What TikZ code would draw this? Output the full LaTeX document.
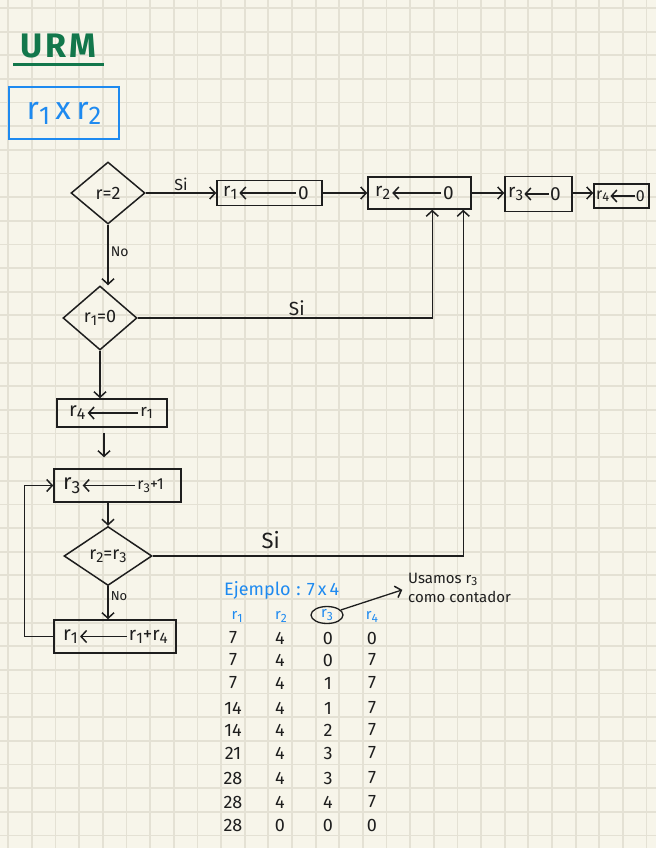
\documentclass[tikz,border=0pt]{standalone}
\usepackage{fontspec}
\setmainfont{Fira Sans}
\usetikzlibrary{arrows.meta,shapes.geometric,calc}
\definecolor{paper}{HTML}{F7F5EA}
\definecolor{gridc}{HTML}{E4E1D4}
\definecolor{ink}{HTML}{1E1E1E}
\definecolor{bluei}{HTML}{1E8AF0}
\definecolor{greeni}{HTML}{12774B}
\newcommand{\rr}[1]{r\raisebox{-0.3ex}{\scalebox{0.8}{#1}}}
\begin{document}
\begin{tikzpicture}[x=1pt,y=-1pt,
  gridline/.style={draw=gridc, line width=1.8pt},
  inkline/.style={draw=ink, line width=1.5pt},
  arr/.style={inkline, -{Straight Barb[length=5.5pt,width=12pt,line width=1.5pt]}},
  boxn/.style={draw=ink, line width=1.5pt, rectangle, inner sep=0pt},
  dia/.style={draw=ink, line width=1.5pt, diamond, inner sep=0pt, font=\fontsize{18}{20}\selectfont, text=ink},
  intxt/.style={inner sep=2pt, text=ink, font=\fontsize{19}{21}\selectfont},
  lbl/.style={inner sep=2pt, text=ink, font=\fontsize{16}{18}\selectfont},
  num/.style={inner sep=1pt, text=ink, font=\fontsize{18}{20}\selectfont},
  hdr/.style={inner sep=1pt, text=bluei, font=\fontsize{15}{17}\selectfont}
]
\useasboundingbox (0,0) rectangle (656,848);
\fill[paper] (0,0) rectangle (656,848);
\foreach \k in {0,...,27} \draw[gridline] ({8.3+23.64*\k},0) -- ({8.3+23.64*\k},848);
\foreach \k in {0,...,35} \draw[gridline] (0,{8+23.64*\k}) -- (656,{8+23.64*\k});

% title
\node[text=greeni, inner sep=0pt, font=\fontsize{34}{40}\selectfont\bfseries] (title) at (58,46) {U\kern3pt R\kern3pt M};
\draw[greeni, line width=3pt] (13,65) -- (104,65);
\node[draw=bluei, line width=2.5pt, minimum width=110, minimum height=52, inner sep=0pt,
      text=bluei, font=\fontsize{32}{36}\selectfont] (prob) at (64,113) {\rr{1}\,x\,\rr{2}};

% top row
\node[dia, minimum width=74, minimum height=62] (d1) at (108,193) {r=2};
\node[boxn, minimum width=105, minimum height=25] (b1) at (269.5,193) {};
\node[intxt, anchor=west] (b1l) at (221,193) {\rr{1}};
\node[intxt, anchor=east] (b1r) at (311,193) {0};
\draw[arr] (b1r) -- (b1l);

\node[boxn, minimum width=103, minimum height=32] (b2) at (419.5,193) {};
\node[intxt, anchor=west] (b2l) at (373,193) {\rr{2}};
\node[intxt, anchor=east] (b2r) at (456,193) {0};
\draw[arr] (b2r) -- (b2l);

\node[boxn, minimum width=67, minimum height=35] (b3) at (538.5,194) {};
\node[intxt, anchor=west, inner sep=1pt] (b3l) at (507,194) {\rr{3}};
\node[intxt, anchor=east, inner sep=1pt] (b3r) at (562,194) {0};
\draw[arr] (b3r) -- (b3l);

\node[boxn, minimum width=55, minimum height=24] (b4) at (621.5,196) {};
\node[intxt, anchor=west, inner sep=1pt, font=\fontsize{16}{18}\selectfont] (b4l) at (595,196) {\rr{4}};
\node[intxt, anchor=east, inner sep=1pt, font=\fontsize{16}{18}\selectfont] (b4r) at (646,196) {0};
\draw[arr] (b4r) -- (b4l);

\draw[arr] (d1.east) -- (d1.east -| b1.west) node[midway, above, lbl] (si1) {Si};
\draw[arr] (b1.east) -- (b1.east -| b2.west);
\draw[arr] (b2.east) -- (b2.east -| b3.west);
\draw[arr] (b3.east |- b2.east) -- (b2.east -| b4.west);

% left column
\node[dia, minimum width=74, minimum height=64] (d2) at (100,318) {\rr{1}=0};
\draw[arr] (d1.south) -- (d1.south |- d2.north) node[pos=0.45, right, lbl, font=\fontsize{14}{16}\selectfont] (no1) {No};

\coordinate (in1) at ($(b2.south west)+(65,0)$);
\coordinate (in2) at ($(b2.south west)+(96,0)$);
\draw[arr] (d2.east) -| (in1) node[pos=0.27, above, lbl, font=\fontsize{19}{21}\selectfont] (si2) {Si};

\node[boxn, minimum width=110, minimum height=28] (b5) at (112,413) {};
\node[intxt, anchor=west, font=\fontsize{20}{22}\selectfont] (b5l) at (67,413) {\rr{4}};
\node[intxt, anchor=east, font=\fontsize{17}{19}\selectfont] (b5r) at (155,413) {\rr{1}};
\draw[arr] (b5r) -- (b5l);
\draw[arr] (d2.south) -- (d2.south |- b5.north);

\node[boxn, minimum width=127, minimum height=33] (b6) at (117.5,485.5) {};
\node[intxt, anchor=west, font=\fontsize{22}{24}\selectfont] (b6l) at (61,485.5) {\rr{3}};
\node[intxt, anchor=east, font=\fontsize{16}{18}\selectfont] (b6r) at (166,485.5) {\rr{3}+1};
\draw[arr] (b6r) -- (b6l);
\coordinate (a5) at ($(b5.south)+(-8,0)$);
\draw[arr, shorten <=5pt, shorten >=11pt] (a5) -- (a5 |- b6.north);

\node[dia, minimum width=88, minimum height=59] (d3) at (108,556) {\rr{2}=\rr{3}};
\draw[arr] (b6.south -| d3.north) -- (d3.north);
\draw[arr] (d3.east) -| (in2) node[pos=0.19, above=4pt, lbl, font=\fontsize{22}{24}\selectfont] (si3) {Si};

\node[boxn, minimum width=122, minimum height=33] (b7) at (115,636.5) {};
\node[intxt, anchor=west, font=\fontsize{20}{22}\selectfont] (b7l) at (61,636.5) {\rr{1}};
\node[intxt, anchor=east, font=\fontsize{19}{21}\selectfont] (b7r) at (170,636.5) {\rr{1}+\rr{4}};
\draw[arr] (b7r) -- (b7l);
\draw[arr] (d3.south) -- (d3.south |- b7.north) node[pos=0.3, right, lbl, font=\fontsize{13}{15}\selectfont] (no2) {No};
\draw[arr] (b7.west) -- ++(-29,0) |- (b6.west);

% example table
\node[anchor=west, inner sep=0pt, text=bluei, font=\fontsize{18}{20}\selectfont] (ej) at (224,590) {Ejemplo\,\,:\,\,7\,x\,4};
\node[hdr] (h1) at (237,617) {\rr{1}};
\node[hdr] (h2) at (281,617) {\rr{2}};
\node[hdr, ellipse, draw=ink, line width=1.3pt, minimum width=32, minimum height=17, inner sep=0pt] (h3) at (327,615) {\rr{3}};
\node[hdr] (h4) at (372,617) {\rr{4}};
\node[anchor=west, align=left, inner sep=0pt, text=ink, font=\fontsize{15}{19}\selectfont] (note) at (408,588) {Usamos \rr{3}\\como contador};
\draw[arr, line width=1.3pt, shorten >=6pt] (h3.20) -- (note.west);

\foreach \ry/\ca/\cb/\cc/\cd [count=\i] in
  {638/7/4/0/0, 660/7/4/0/7, 683/7/4/1/7, 708/14/4/1/7, 730/14/4/2/7,
   753/21/4/3/7, 778/28/4/3/7, 802/28/4/4/7, 825/28/0/0/0}{
  \node[num] (t\i-1) at (233,\ry) {\ca};
  \node[num] (t\i-2) at (280,\ry) {\cb};
  \node[num] (t\i-3) at (328,\ry) {\cc};
  \node[num] (t\i-4) at (372,\ry) {\cd};
}
\end{tikzpicture}
\end{document}
